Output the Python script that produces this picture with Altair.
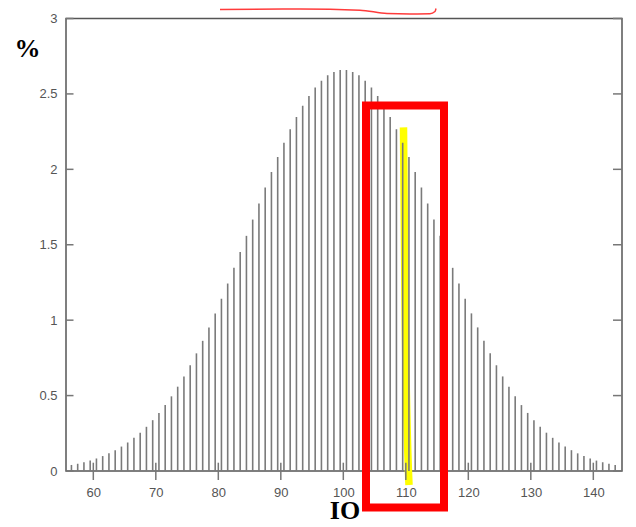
import altair as alt
import pandas as pd

# IQ bin centres and percentage of population per 1-point bin
iq = [56.5, 57.5, 58.5, 59.5, 60.5, 61.5, 62.5, 63.5, 64.5, 65.5,
      66.5, 67.5, 68.5, 69.5, 70.5, 71.5, 72.5, 73.5, 74.5, 75.5,
      76.5, 77.5, 78.5, 79.5, 80.5, 81.5, 82.5, 83.5, 84.5, 85.5,
      86.5, 87.5, 88.5, 89.5, 90.5, 91.5, 92.5, 93.5, 94.5, 95.5,
      96.5, 97.5, 98.5, 99.5, 100.5, 101.5, 102.5, 103.5, 104.5, 105.5,
      106.5, 107.5, 108.5, 109.5, 110.5, 111.5, 112.5, 113.5, 114.5, 115.5,
      116.5, 117.5, 118.5, 119.5, 120.5, 121.5, 122.5, 123.5, 124.5, 125.5,
      126.5, 127.5, 128.5, 129.5, 130.5, 131.5, 132.5, 133.5, 134.5, 135.5,
      136.5, 137.5, 138.5, 139.5, 140.5, 141.5, 142.5, 143.5]
pct = [0.040, 0.048, 0.058, 0.069, 0.083, 0.099, 0.117, 0.138, 0.162, 0.189,
       0.220, 0.254, 0.293, 0.337, 0.385, 0.437, 0.495, 0.559, 0.627, 0.701,
       0.780, 0.863, 0.952, 1.045, 1.142, 1.243, 1.347, 1.452, 1.559, 1.667,
       1.774, 1.879, 1.982, 2.082, 2.176, 2.265, 2.347, 2.421, 2.487, 2.543,
       2.588, 2.623, 2.646, 2.658, 2.658, 2.646, 2.623, 2.588, 2.543, 2.487,
       2.421, 2.347, 2.265, 2.176, 2.082, 1.982, 1.879, 1.774, 1.667, 1.559,
       1.452, 1.347, 1.243, 1.142, 1.045, 0.952, 0.863, 0.780, 0.701, 0.627,
       0.559, 0.495, 0.437, 0.385, 0.337, 0.293, 0.254, 0.220, 0.189, 0.162,
       0.138, 0.117, 0.099, 0.083, 0.069, 0.058, 0.048, 0.040]

x_ticks = [60, 70, 80, 90, 100, 110, 120, 130, 140]
y_ticks = [0, 0.5, 1, 1.5, 2, 2.5, 3]

# hand-drawn annotations (data coordinates)
box_x, box_x2, box_y, box_y2 = [103.63], [116.11], [2.424], [-0.242]
hl_x = [109.63, 109.87, 110.51]
hl_y = [2.278, 1.132, -0.093]
sq_x = [80.27, 93.07, 102.67, 106.99, 110.67, 113.87, 114.67, 114.83]
sq_y = [3.060, 3.063, 3.055, 3.033, 3.030, 3.031, 3.046, 3.066]

xs = alt.Scale(domain=[55.63, 144.59], nice=False, zero=False)
ys = alt.Scale(domain=[0, 3], nice=False, zero=False)

df = pd.DataFrame({"iq": iq, "pct": pct})

bars = alt.Chart(df).mark_rule(color="#7a7a7a", strokeWidth=1.6).encode(
    x=alt.X("iq:Q", scale=xs, title="IO", axis=alt.Axis(
        values=x_ticks, format="d",
        labelPadding=15, labelFont="Liberation Sans", labelFontSize=13,
        labelColor="#555555",
        titleX=278.5, titleY=47, titleFont="Liberation Serif", titleFontSize=26,
        titleFontWeight="bold", titleColor="#000000", titleAlign="center",
        titleBaseline="alphabetic")),
    y=alt.Y("pct:Q", scale=ys, title="%", axis=alt.Axis(
        values=y_ticks, format="~g",
        labelPadding=9, labelFont="Liberation Sans", labelFontSize=13,
        labelColor="#555555",
        titleAngle=0, titleX=-39, titleY=29.5, titleFont="Liberation Serif",
        titleFontSize=26, titleFontWeight="bold", titleColor="#000000",
        titleAlign="center", titleBaseline="middle")),
    y2=alt.datum(0),
)

xt = alt.Chart(pd.DataFrame({"v": x_ticks})).mark_rule(color="#777777", strokeWidth=1.5).encode(
    x=alt.X("v:Q", scale=xs, title="IO"),
    y=alt.value(444.2), y2=alt.value(461.5),
)
ytl = alt.Chart(pd.DataFrame({"v": y_ticks})).mark_rule(color="#777777", strokeWidth=1.5).encode(
    y=alt.Y("v:Q", scale=ys, title="%"),
    x=alt.value(0), x2=alt.value(7.5),
)
ytr = alt.Chart(pd.DataFrame({"v": y_ticks})).mark_rule(color="#777777", strokeWidth=1.5).encode(
    y=alt.Y("v:Q", scale=ys, title="%"),
    x=alt.value(547), x2=alt.value(556),
)

hl = alt.Chart(pd.DataFrame({"x": hl_x, "y": hl_y, "o": [0, 1, 2]})).mark_line(
    color="#ffff00", strokeWidth=7.5, strokeCap="butt", interpolate="monotone").encode(
    x=alt.X("x:Q", scale=xs, title="IO"),
    y=alt.Y("y:Q", scale=ys, title="%"),
    order="o:Q",
)

box = alt.Chart(pd.DataFrame({"x": box_x, "x2": box_x2, "y": box_y, "y2": box_y2})).mark_rect(
    filled=False, stroke="#ff0000", strokeWidth=8, strokeJoin="miter").encode(
    x=alt.X("x:Q", scale=xs, title="IO"), x2="x2:Q",
    y=alt.Y("y:Q", scale=ys, title="%"), y2="y2:Q",
)

sq = alt.Chart(pd.DataFrame({"x": sq_x, "y": sq_y, "o": list(range(len(sq_x)))})).mark_line(
    color="#ff3b3b", strokeWidth=1.5, interpolate="monotone").encode(
    x=alt.X("x:Q", scale=xs, title="IO"),
    y=alt.Y("y:Q", scale=ys, title="%"),
    order="o:Q",
)

chart = alt.layer(hl, bars, xt, ytl, ytr, box, sq).properties(
    width=556, height=452.5,
    autosize=alt.AutoSizeParams(type="none"),
    padding={"left": 58, "top": 10.5, "right": 4, "bottom": 48},
    background="#ffffff",
).configure_view(
    stroke="#555555", strokeWidth=1.5
).configure_axis(
    grid=False, ticks=False, domain=False
)

chart.save("out.html", embed_options={"renderer": "svg", "actions": False})
